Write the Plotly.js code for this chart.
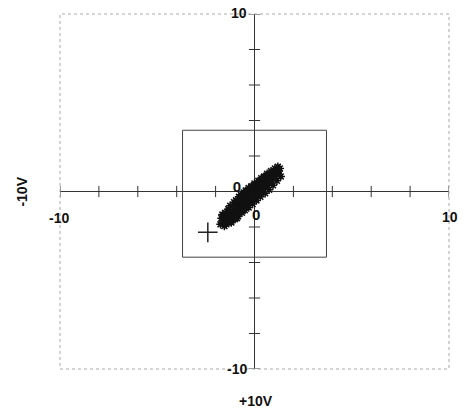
<!DOCTYPE html>
<html>
<head>
<meta charset="utf-8">
<script src="https://cdn.plot.ly/plotly-3.0.1.min.js"></script>
<style>html,body{margin:0;padding:0;background:#fff;}#chart{width:463px;height:416px;}</style>
</head>
<body>
<div id="chart"></div>
<script>
// Axis range and ticks
const axisRange = [-10, 10];
const tickVals = [-10, -8, -6, -4, -2, 2, 4, 6, 8, 10];
const tickZeros = [0, 0, 0, 0, 0, 0, 0, 0, 0, 0];

// Inner window rectangle
const boxX = [-3.7, 3.7, 3.7, -3.7, -3.7];
const boxY = [-3.7, -3.7, 3.45, 3.45, -3.7];

// Dense measurement cluster
const clusterX = [-1.6,-1.55,-1.5,-1.45,-1.4,-1.4,-1.35,-1.3,-1.3,-1.25,-1.2,-1.2,-1.15,-1.1,-1.1,-1.05,-1.0,-1.0,-1.0,-0.95,-0.95,-0.9,-0.9,-0.85,-0.85,-0.8,-0.8,-0.75,-0.75,-0.7,-0.7,-0.65,-0.65,-0.6,-0.6,-0.55,-0.55,-0.5,-0.5,-0.45,-0.45,-0.4,-0.4,-0.35,-0.35,-0.3,-0.3,-0.25,-0.25,-0.2,-0.2,-0.15,-0.15,-0.1,-0.1,-0.05,-0.05,0.0,0.0,0.05,0.05,0.1,0.1,0.15,0.15,0.2,0.2,0.25,0.25,0.3,0.3,0.35,0.35,0.4,0.4,0.45,0.45,0.5,0.5,0.55,0.55,0.6,0.6,0.65,0.65,0.7,0.7,0.75,0.75,0.8,0.8,0.85,0.9,0.9,0.95,1.0,1.0,1.05,1.1,1.15,1.2,1.25,1.3,-1.2,-1.0,-1.7,-1.5,-0.6,-0.2,0.2,
  -1.65,-1.35,-1.25,-1.05,-0.95,-0.8,-0.7,-0.55,-0.45,-0.3,-0.15,0.0,0.2,0.35,0.5,0.65,0.85,1.05,1.2,
  -1.45,-1.2,-1.0,-0.85,-0.65,-0.5,-0.3,-0.1,0.1,0.3,0.55,0.75,0.95,1.15,1.35,-1.75,-1.55,-0.9,0.45];
const clusterY = [-1.7,-1.55,-1.65,-1.4,-1.75,-1.5,-1.3,-1.6,-1.45,-1.2,-1.55,-1.35,-1.1,-1.45,-1.25,-1.0,-1.35,-1.15,-0.9,-1.25,-0.75,-1.05,-0.85,-1.2,-0.6,-0.95,-0.7,-1.05,-0.5,-0.85,-0.6,-0.95,-0.4,-0.75,-0.5,-0.85,-0.3,-0.65,-0.4,-0.75,-0.2,-0.55,-0.3,-0.65,-0.1,-0.45,-0.2,-0.55,0.0,-0.35,-0.1,-0.45,0.1,-0.25,0.0,-0.35,0.2,-0.15,0.1,-0.25,0.3,-0.05,0.2,-0.15,0.4,0.05,0.3,-0.05,0.5,0.15,0.4,0.05,0.55,0.25,0.45,0.15,0.65,0.35,0.55,0.25,0.75,0.45,0.65,0.4,0.85,0.55,0.75,0.5,0.95,0.65,0.85,0.6,0.8,1.0,0.75,0.9,1.1,0.85,1.0,1.1,1.05,1.15,1.3,-1.75,-1.55,-1.5,-1.2,-0.65,-0.25,0.1,
  -1.3,-1.0,-0.8,-0.6,-0.5,-0.3,-0.2,-0.05,0.05,0.2,0.3,0.45,0.6,0.75,0.85,1.0,1.15,1.3,1.4,
  -1.85,-1.7,-1.5,-1.4,-1.2,-1.05,-0.9,-0.7,-0.5,-0.3,-0.1,0.1,0.35,0.6,0.85,-1.85,-1.95,-1.5,0.7];

// Single marked points
const crossX = [-2.4];
const crossY = [-2.3];
const zeroX = [-0.9, 0.08];
const zeroY = [0.2, -1.4];
const zeroText = ['0', '0'];

const traces = [
  {x: axisRange, y: [0, 0], mode: 'lines', line: {color: '#333', width: 1}, hoverinfo: 'skip'},
  {x: [0, 0], y: axisRange, mode: 'lines', line: {color: '#333', width: 1}, hoverinfo: 'skip'},
  {x: tickZeros, y: tickVals, mode: 'markers', marker: {symbol: 'line-ew', size: 8, line: {color: '#333', width: 1}}, hoverinfo: 'skip'},
  {x: tickVals, y: tickZeros, mode: 'markers', marker: {symbol: 'line-ns', size: 8, line: {color: '#333', width: 1}}, hoverinfo: 'skip'},
  {x: boxX, y: boxY, mode: 'lines', line: {color: '#444', width: 1}, hoverinfo: 'skip'},
  {x: clusterX, y: clusterY, mode: 'markers', marker: {symbol: 'asterisk', size: 7, line: {color: '#111', width: 1.5}}},
  {x: clusterX, y: clusterY, mode: 'markers', marker: {symbol: 'square', size: 4, color: '#111'}},
  {x: crossX, y: crossY, mode: 'markers', marker: {symbol: 'cross-thin', size: 14, line: {color: '#222', width: 1.5}}},
  {x: zeroX, y: zeroY, mode: 'text', text: zeroText, textfont: {family: 'Liberation Sans, Arial, sans-serif', size: 15, color: '#111', weight: 'bold'}}
];

const lf = {family: 'Liberation Sans, Arial, sans-serif', size: 14, color: '#111', weight: 'bold'};

const layout = {
  width: 463, height: 416,
  margin: {l: 60, r: 14, t: 14, b: 47},
  paper_bgcolor: '#fff', plot_bgcolor: '#fff',
  showlegend: false,
  xaxis: {range: axisRange, showgrid: false, zeroline: false, showticklabels: false, ticks: '', showline: false, fixedrange: true},
  yaxis: {range: axisRange, showgrid: false, zeroline: false, showticklabels: false, ticks: '', showline: false, fixedrange: true},
  shapes: [
    {type: 'rect', xref: 'paper', yref: 'paper', x0: 0, x1: 1, y0: 0, y1: 1, line: {color: '#aaa', width: 1, dash: 'dot'}}
  ],
  annotations: [
    {x: 0, y: 10, xref: 'x', yref: 'y', text: '10', showarrow: false, xanchor: 'right', yanchor: 'middle', xshift: -6, yshift: 1, font: lf},
    {x: 0, y: -10, xref: 'x', yref: 'y', text: '-10', showarrow: false, xanchor: 'right', yanchor: 'middle', xshift: -6, font: lf},
    {x: -10, y: 0, xref: 'x', yref: 'y', text: '-10', showarrow: false, xanchor: 'center', yanchor: 'top', xshift: -1, yshift: -16, font: lf},
    {x: 10, y: 0, xref: 'x', yref: 'y', text: '10', showarrow: false, xanchor: 'center', yanchor: 'top', xshift: 1, yshift: -15, font: lf},
    {xref: 'paper', yref: 'paper', x: -0.1, y: 0.5, text: '-10V', showarrow: false, textangle: -90, xanchor: 'center', yanchor: 'middle', font: lf},
    {xref: 'paper', yref: 'paper', x: 0.505, y: -0.09, text: '+10V', showarrow: false, xanchor: 'center', yanchor: 'middle', font: lf}
  ]
};

Plotly.newPlot('chart', traces, layout, {staticPlot: true, displayModeBar: false});
</script>
</body>
</html>
